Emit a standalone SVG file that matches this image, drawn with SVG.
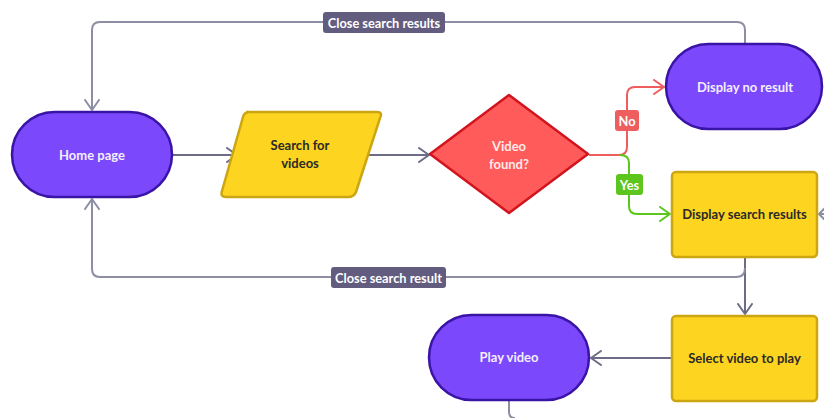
<svg xmlns="http://www.w3.org/2000/svg" width="824" height="418" viewBox="0 0 824 418">
<style>
.lbl{font-family:Lato,"Open Sans","Liberation Sans",sans-serif;font-weight:700;font-size:13px;text-anchor:middle;dominant-baseline:central}
.wt{fill:#F3EEFF}
.dk{fill:#2B2A27}
.rd{fill:#FFE9E9}
.term{fill:#7B48FB;stroke:#3A14A6;stroke-width:2.5}
.proc{fill:#FDD41F;stroke:#CBA612;stroke-width:2.5}
.dec{fill:#FF5B5B;stroke:#D2141E;stroke-width:2.5;stroke-linejoin:round}
.c{fill:none;stroke:#6C6C86;stroke-width:2}
.cl{fill:none;stroke:#8D8DA3;stroke-width:2}
.cr{fill:none;stroke:#EE5E5E;stroke-width:2}
.cg{fill:none;stroke:#5CC61E;stroke-width:2}
.tag{fill:#625C7F}
.tagt{font-family:Lato,"Open Sans","Liberation Sans",sans-serif;font-weight:700;font-size:12.8px;text-anchor:middle;dominant-baseline:central;fill:#FFFFFF}
</style>
<defs>
<marker id="ag" viewBox="0 0 12 16" refX="11" refY="8" markerWidth="12" markerHeight="16" markerUnits="userSpaceOnUse" orient="auto"><path d="M1,1 L11,8 L1,15" fill="none" stroke="#6C6C86" stroke-width="2" stroke-linecap="round" stroke-linejoin="round"/></marker>
<marker id="agl" viewBox="0 0 12 16" refX="11" refY="8" markerWidth="12" markerHeight="16" markerUnits="userSpaceOnUse" orient="auto"><path d="M1,1 L11,8 L1,15" fill="none" stroke="#8D8DA3" stroke-width="2" stroke-linecap="round" stroke-linejoin="round"/></marker>
<marker id="ar" viewBox="0 0 12 16" refX="11" refY="8" markerWidth="12" markerHeight="16" markerUnits="userSpaceOnUse" orient="auto"><path d="M1,1 L11,8 L1,15" fill="none" stroke="#EE5E5E" stroke-width="2" stroke-linecap="round" stroke-linejoin="round"/></marker>
<marker id="agr" viewBox="0 0 12 16" refX="11" refY="8" markerWidth="12" markerHeight="16" markerUnits="userSpaceOnUse" orient="auto"><path d="M1,1 L11,8 L1,15" fill="none" stroke="#5CC61E" stroke-width="2" stroke-linecap="round" stroke-linejoin="round"/></marker>
</defs>
<rect width="824" height="418" fill="#FFFFFF"/>
<g id="connectors">
<path class="cl" d="M745,43 V30 Q745,22 737,22 H100 Q92,22 92,30 V110" marker-end="url(#agl)"/>
<path class="c" d="M173,155 H237" marker-end="url(#ag)"/>
<path class="c" d="M365,155 H429" marker-end="url(#ag)"/>
<path class="cr" d="M589,155 H619 Q627,155 627,147 V95 Q627,87 635,87 H664" marker-end="url(#ar)"/>
<path class="cg" d="M620,155 Q629,155 629,163 V206 Q629,214 637,214 H670" marker-end="url(#agr)"/>
<path class="c" d="M745,257 V314" marker-end="url(#ag)"/>
<path class="cl" d="M745,268 Q745,277 736,277 H100 Q92,277 92,269 V199" marker-end="url(#agl)"/>
<path class="c" d="M672,358 H591" marker-end="url(#ag)"/>
<path class="cl" d="M824,214 H820"/>
<path d="M826,207 L819,214 L826,221" fill="none" stroke="#8D8DA3" stroke-width="2" stroke-linecap="round" stroke-linejoin="round"/>
<path class="cl" d="M509,401 V412 Q509,418 515,418"/>
<g id="lbl-close-top"><rect class="tag" x="323" y="12" width="122" height="21" rx="3"/><text class="tagt" x="384" y="22.5">Close search results</text></g>
<g id="lbl-close-bottom"><rect class="tag" x="331" y="267" width="115" height="21" rx="3"/><text class="tagt" x="388.5" y="277.5">Close search result</text></g>
<g id="lbl-no"><rect x="615" y="110" width="24" height="21" rx="3" fill="#EE5E5E"/><text class="tagt" x="627" y="120.5">No</text></g>
<g id="lbl-yes"><rect x="616" y="174" width="27" height="21" rx="3" fill="#5CC61E"/><text class="tagt" x="629.5" y="184.5">Yes</text></g>
</g>
<g id="home"><rect class="term" x="12" y="112" width="160" height="85" rx="42.5"/><text class="lbl wt" x="92" y="155">Home page</text></g>
<g id="search"><path class="proc" d="M246,112 H377 Q383,112 380,118 L356,192 Q354,197 348,197 H226 Q220,197 222,191 L243,117 Q244,112 250,112 Z"/><text class="lbl dk" x="300" y="145">Search for</text><text class="lbl dk" x="300" y="163">videos</text></g>
<g id="decision"><path class="dec" d="M509,95 L588,154 L509,213 L430,154 Z"/><text class="lbl rd" x="509" y="146">Video</text><text class="lbl rd" x="509" y="164">found?</text></g>
<g id="noresult"><rect class="term" x="666" y="44" width="156" height="85" rx="42.5"/><text class="lbl wt" x="745" y="87">Display no result</text></g>
<g id="results"><rect class="proc" x="672" y="172" width="145" height="85" rx="4"/><text class="lbl dk" x="744.5" y="214">Display search results</text></g>
<g id="select"><rect class="proc" x="672" y="316" width="145" height="85" rx="4"/><text class="lbl dk" x="744.5" y="358">Select video to play</text></g>
<g id="play"><rect class="term" x="429" y="315" width="160" height="85" rx="42.5"/><text class="lbl wt" x="509" y="357">Play video</text></g>
</svg>
